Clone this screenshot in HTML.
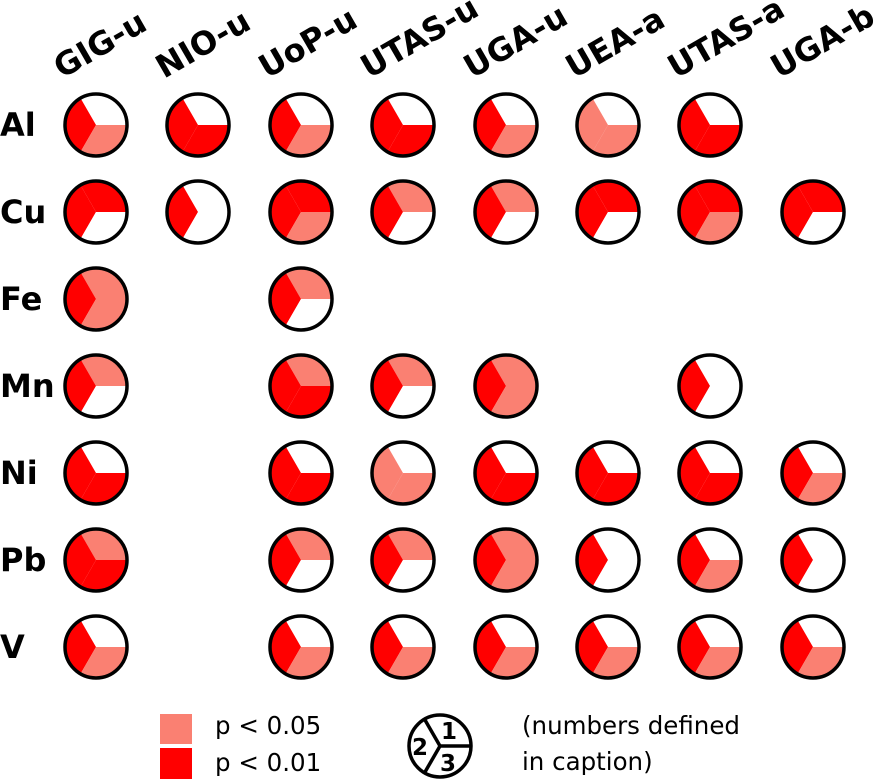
<!DOCTYPE html>
<html><head><meta charset="utf-8"><style>
html,body{margin:0;padding:0;background:#fff;}
svg{display:block;}
text{font-family:"DejaVu Sans","Liberation Sans",sans-serif;}
</style></head><body>
<svg width="883" height="780" viewBox="0 0 883 780" xmlns="http://www.w3.org/2000/svg">
<defs>
<path id="a" d="M0,0 L31,0 A31,31 0 0 0 -15.5,-26.85 Z"/>
<path id="b" d="M0,0 L-15.5,-26.85 A31,31 0 0 0 -15.5,26.85 Z"/>
<path id="c" d="M0,0 L-15.5,26.85 A31,31 0 0 0 31,0 Z"/>
<circle id="o" r="31" fill="none" stroke="#000" stroke-width="3.5"/>
</defs>
<g font-weight="bold" font-size="32" fill="#000">
<text transform="translate(62,79) rotate(-30)">GIG-u</text>
<text transform="translate(164,79) rotate(-30)">NIO-u</text>
<text transform="translate(267,79) rotate(-30)">UoP-u</text>
<text transform="translate(369,79) rotate(-30)">UTAS-u</text>
<text transform="translate(472,79) rotate(-30)">UGA-u</text>
<text transform="translate(574,79) rotate(-30)">UEA-a</text>
<text transform="translate(676,79) rotate(-30)">UTAS-a</text>
<text transform="translate(779,79) rotate(-30)">UGA-b</text>
</g>
<g font-weight="bold" font-size="32" fill="#000">
<text x="0" y="136">Al</text>
<text x="0" y="223">Cu</text>
<text x="0" y="310">Fe</text>
<text x="0" y="397">Mn</text>
<text x="0" y="484">Ni</text>
<text x="0" y="571">Pb</text>
<text x="0" y="658">V</text>
</g>
<!-- Al -->
<g transform="translate(96,125)"><use href="#a" fill="#fff"/><use href="#b" fill="#f00"/><use href="#c" fill="#fa8072"/><use href="#o"/></g>
<g transform="translate(198,125)"><use href="#a" fill="#fff"/><use href="#b" fill="#f00"/><use href="#c" fill="#f00"/><use href="#o"/></g>
<g transform="translate(301,125)"><use href="#a" fill="#fff"/><use href="#b" fill="#f00"/><use href="#c" fill="#fa8072"/><use href="#o"/></g>
<g transform="translate(403,125)"><use href="#a" fill="#fff"/><use href="#b" fill="#f00"/><use href="#c" fill="#f00"/><use href="#o"/></g>
<g transform="translate(506,125)"><use href="#a" fill="#fff"/><use href="#b" fill="#f00"/><use href="#c" fill="#fa8072"/><use href="#o"/></g>
<g transform="translate(608,125)"><use href="#a" fill="#fff"/><use href="#b" fill="#fa8072"/><use href="#c" fill="#fa8072"/><use href="#o"/></g>
<g transform="translate(710,125)"><use href="#a" fill="#fff"/><use href="#b" fill="#f00"/><use href="#c" fill="#f00"/><use href="#o"/></g>
<!-- Cu -->
<g transform="translate(96,212)"><use href="#a" fill="#f00"/><use href="#b" fill="#f00"/><use href="#c" fill="#fff"/><use href="#o"/></g>
<g transform="translate(198,212)"><use href="#a" fill="#fff"/><use href="#b" fill="#f00"/><use href="#c" fill="#fff"/><use href="#o"/></g>
<g transform="translate(301,212)"><use href="#a" fill="#f00"/><use href="#b" fill="#f00"/><use href="#c" fill="#fa8072"/><use href="#o"/></g>
<g transform="translate(403,212)"><use href="#a" fill="#fa8072"/><use href="#b" fill="#f00"/><use href="#c" fill="#fff"/><use href="#o"/></g>
<g transform="translate(506,212)"><use href="#a" fill="#fa8072"/><use href="#b" fill="#f00"/><use href="#c" fill="#fff"/><use href="#o"/></g>
<g transform="translate(608,212)"><use href="#a" fill="#f00"/><use href="#b" fill="#f00"/><use href="#c" fill="#fff"/><use href="#o"/></g>
<g transform="translate(710,212)"><use href="#a" fill="#f00"/><use href="#b" fill="#f00"/><use href="#c" fill="#fa8072"/><use href="#o"/></g>
<g transform="translate(813,212)"><use href="#a" fill="#f00"/><use href="#b" fill="#f00"/><use href="#c" fill="#fff"/><use href="#o"/></g>
<!-- Fe -->
<g transform="translate(96,299)"><use href="#a" fill="#fa8072"/><use href="#b" fill="#f00"/><use href="#c" fill="#fa8072"/><use href="#o"/></g>
<g transform="translate(301,299)"><use href="#a" fill="#fa8072"/><use href="#b" fill="#f00"/><use href="#c" fill="#fff"/><use href="#o"/></g>
<!-- Mn -->
<g transform="translate(96,386)"><use href="#a" fill="#fa8072"/><use href="#b" fill="#f00"/><use href="#c" fill="#fff"/><use href="#o"/></g>
<g transform="translate(301,386)"><use href="#a" fill="#fa8072"/><use href="#b" fill="#f00"/><use href="#c" fill="#f00"/><use href="#o"/></g>
<g transform="translate(403,386)"><use href="#a" fill="#fa8072"/><use href="#b" fill="#f00"/><use href="#c" fill="#fff"/><use href="#o"/></g>
<g transform="translate(506,386)"><use href="#a" fill="#fa8072"/><use href="#b" fill="#f00"/><use href="#c" fill="#fa8072"/><use href="#o"/></g>
<g transform="translate(710,386)"><use href="#a" fill="#fff"/><use href="#b" fill="#f00"/><use href="#c" fill="#fff"/><use href="#o"/></g>
<!-- Ni -->
<g transform="translate(96,473)"><use href="#a" fill="#fff"/><use href="#b" fill="#f00"/><use href="#c" fill="#f00"/><use href="#o"/></g>
<g transform="translate(301,473)"><use href="#a" fill="#fff"/><use href="#b" fill="#f00"/><use href="#c" fill="#f00"/><use href="#o"/></g>
<g transform="translate(403,473)"><use href="#a" fill="#fff"/><use href="#b" fill="#fa8072"/><use href="#c" fill="#fa8072"/><use href="#o"/></g>
<g transform="translate(506,473)"><use href="#a" fill="#fff"/><use href="#b" fill="#f00"/><use href="#c" fill="#f00"/><use href="#o"/></g>
<g transform="translate(608,473)"><use href="#a" fill="#fff"/><use href="#b" fill="#f00"/><use href="#c" fill="#f00"/><use href="#o"/></g>
<g transform="translate(710,473)"><use href="#a" fill="#fff"/><use href="#b" fill="#f00"/><use href="#c" fill="#f00"/><use href="#o"/></g>
<g transform="translate(813,473)"><use href="#a" fill="#fff"/><use href="#b" fill="#f00"/><use href="#c" fill="#fa8072"/><use href="#o"/></g>
<!-- Pb -->
<g transform="translate(96,560)"><use href="#a" fill="#fa8072"/><use href="#b" fill="#f00"/><use href="#c" fill="#f00"/><use href="#o"/></g>
<g transform="translate(301,560)"><use href="#a" fill="#fa8072"/><use href="#b" fill="#f00"/><use href="#c" fill="#fff"/><use href="#o"/></g>
<g transform="translate(403,560)"><use href="#a" fill="#fa8072"/><use href="#b" fill="#f00"/><use href="#c" fill="#fff"/><use href="#o"/></g>
<g transform="translate(506,560)"><use href="#a" fill="#fa8072"/><use href="#b" fill="#f00"/><use href="#c" fill="#fa8072"/><use href="#o"/></g>
<g transform="translate(608,560)"><use href="#a" fill="#fff"/><use href="#b" fill="#f00"/><use href="#c" fill="#fff"/><use href="#o"/></g>
<g transform="translate(710,560)"><use href="#a" fill="#fff"/><use href="#b" fill="#f00"/><use href="#c" fill="#fa8072"/><use href="#o"/></g>
<g transform="translate(813,560)"><use href="#a" fill="#fff"/><use href="#b" fill="#f00"/><use href="#c" fill="#fff"/><use href="#o"/></g>
<!-- V -->
<g transform="translate(96,647)"><use href="#a" fill="#fff"/><use href="#b" fill="#f00"/><use href="#c" fill="#fa8072"/><use href="#o"/></g>
<g transform="translate(301,647)"><use href="#a" fill="#fff"/><use href="#b" fill="#f00"/><use href="#c" fill="#fa8072"/><use href="#o"/></g>
<g transform="translate(403,647)"><use href="#a" fill="#fff"/><use href="#b" fill="#f00"/><use href="#c" fill="#fa8072"/><use href="#o"/></g>
<g transform="translate(506,647)"><use href="#a" fill="#fff"/><use href="#b" fill="#f00"/><use href="#c" fill="#fa8072"/><use href="#o"/></g>
<g transform="translate(608,647)"><use href="#a" fill="#fff"/><use href="#b" fill="#f00"/><use href="#c" fill="#fa8072"/><use href="#o"/></g>
<g transform="translate(710,647)"><use href="#a" fill="#fff"/><use href="#b" fill="#f00"/><use href="#c" fill="#fa8072"/><use href="#o"/></g>
<g transform="translate(813,647)"><use href="#a" fill="#fff"/><use href="#b" fill="#f00"/><use href="#c" fill="#fa8072"/><use href="#o"/></g>
<!-- legend -->
<rect x="160" y="714" width="32" height="30" fill="#fa8072"/>
<rect x="160" y="748" width="32" height="31" fill="#ff0000"/>
<g font-size="24.5" fill="#000">
<text x="215" y="734">p &lt; 0.05</text>
<text x="215" y="771">p &lt; 0.01</text>
<text x="522" y="734">(numbers defined</text>
<text x="522" y="770">in caption)</text>
</g>
<g transform="translate(440,746)" stroke="#000" stroke-width="3.5" fill="none">
<circle r="31"/>
<line x1="0" y1="0" x2="31" y2="0"/>
<line x1="0" y1="0" x2="-15.5" y2="-26.85"/>
<line x1="0" y1="0" x2="-15.5" y2="26.85"/>
</g>
<g font-weight="bold" font-size="23" fill="#000">
<text x="441" y="739">1</text>
<text x="412" y="755">2</text>
<text x="440" y="771">3</text>
</g>
</svg>
</body></html>
